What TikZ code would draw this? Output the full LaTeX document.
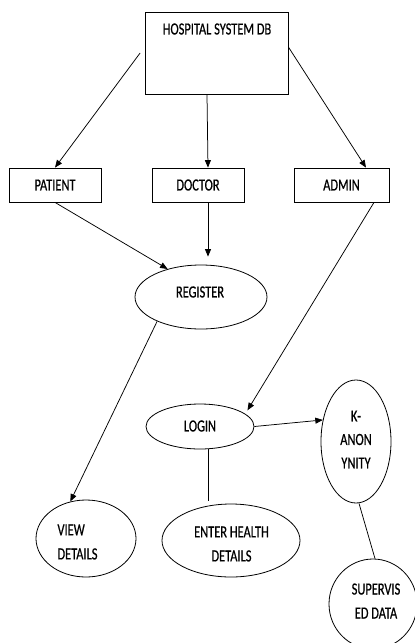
\documentclass[tikz,border=0pt]{standalone}
\usepackage{fontspec}
\setmainfont{Carlito}
\newfontfamily\lblfont[FakeStretch=0.73,FakeBold=0.6]{Carlito}
\usetikzlibrary{shapes.geometric,arrows.meta,calc}
\begin{document}
\begin{tikzpicture}[x=1pt,y=-1pt,
  rbox/.style={draw, line width=0.8pt, inner sep=0pt, font=\lblfont\fontsize{17}{24}\selectfont},
  oval/.style={draw, ellipse, line width=0.8pt, inner sep=0pt},
  txt/.style={font=\lblfont\fontsize{17}{24}\selectfont, align=center, inner sep=0pt},
  arr/.style={-{Triangle[length=7.5pt,width=6pt]}, line width=0.75pt},
  ln/.style={line width=0.75pt}]
\useasboundingbox (0,0) rectangle (415,643);
% boxes
\node[rbox, minimum width=143pt, minimum height=82pt] (db) at (216.5,53) {};
\node[txt] (dbt) at (217,29) {HOSPITAL SYSTEM DB};
\node[rbox, minimum width=92pt, minimum height=34pt] (pat) at (55,185) {PATIENT};
\node[rbox, minimum width=92pt, minimum height=34pt] (doc) at (198,185) {DOCTOR};
\node[rbox, minimum width=95pt, minimum height=34pt] (adm) at (341.5,185) {ADMIN};
% ellipses
\node[oval, minimum width=132pt, minimum height=64pt] (reg) at (201,297) {};
\node[txt] (regt) at (200,292) {REGISTER};
\node[oval, minimum width=108pt, minimum height=45pt] (login) at (200,426.5) {};
\node[txt] (logt) at (200,426) {LOGIN};
\node[oval, minimum width=70pt, minimum height=123pt] (kanon) at (356,441.5) {};
\node[txt, font=\lblfont\fontsize{17}{23.5}\selectfont] (kant) at (356,439.5) {K-\\ANON\\YNITY};
\node[oval, minimum width=100pt, minimum height=77pt] (view) at (86,538.5) {};
\node[txt, align=left, anchor=west] (viewt) at (57.3,542) {VIEW\\DETAILS};
\node[oval, minimum width=138pt, minimum height=73pt] (enter) at (231,540.5) {};
\node[txt] (entt) at (231.5,544) {ENTER HEALTH\\DETAILS};
\node[oval, minimum width=88pt, minimum height=90pt] (sup) at (373,604) {};
\node[txt] (supt) at (376,601) {SUPERVIS\\ED DATA};
% connectors
\draw[arr] ([xshift=-4.5pt]db.west) -- (pat.north);
\draw[arr] ([xshift=-9.5pt]db.south) -- ([xshift=10pt]doc.north);
\draw[arr] ([yshift=6pt]db.east) -- ([xshift=24.5pt]adm.north);
\draw[arr] (pat.south) -- (reg.140);
\draw[arr] ([xshift=10pt]doc.south) -- ([xshift=7pt,yshift=8pt]reg.north);
\draw[arr] ([xshift=32.5pt]adm.south) -- ([xshift=9pt]login.north east);
\draw[arr] (login.east) -- (kanon.147);
\draw[ln] ([xshift=3pt]kanon.south) -- ([xshift=2pt]sup.north);
\draw[arr] (reg.209) -- (view.113);
\draw[ln] ([xshift=8pt]login.south) -- ([xshift=-23pt,yshift=3pt]enter.north);
\end{tikzpicture}
\end{document}
